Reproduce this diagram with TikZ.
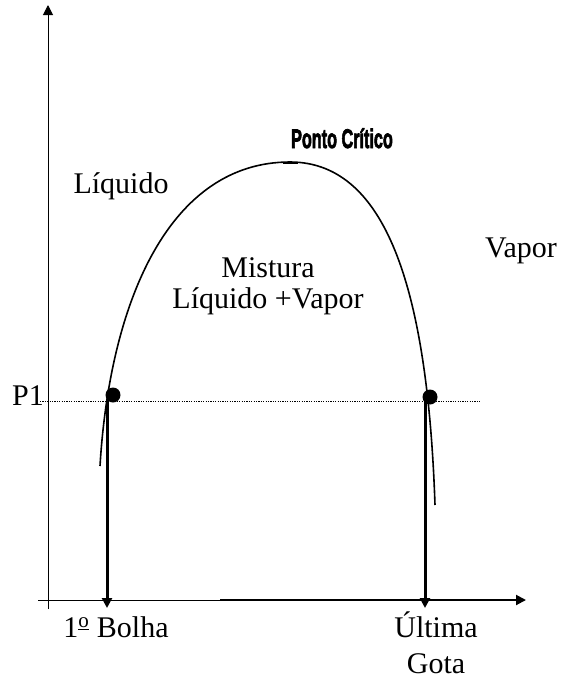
\documentclass[tikz,border=0pt]{standalone}
\usepackage{fontspec}
\setmainfont{Liberation Serif}
\newfontfamily\pcfont[FakeBold=3]{Liberation Sans}
\usetikzlibrary{arrows.meta}
\tikzset{
  lbl/.style={inner sep=0pt, anchor=base, font=\fontsize{30}{31}\selectfont},
  thinax/.style={line width=1pt},
  thickax/.style={line width=2pt},
  vline/.style={line width=3pt},
  curvel/.style={line width=1.6pt},
  tip/.style={-{Triangle[length=10pt,width=10pt]}},
  dotpt/.style={circle, fill=black, inner sep=0pt, minimum size=15pt},
}
\begin{document}
\begin{tikzpicture}[x=1pt,y=-1pt]
\useasboundingbox (0,0) rectangle (563,681);
% axes
\coordinate (yb) at (48,609);
\coordinate (yt) at (48,5);
\coordinate (xl) at (38,600);
\coordinate (xm) at (220,600);
\coordinate (xr) at (526,600);
\draw[thinax,tip] (yb) -- (yt);
\draw[thinax] (xl) -- (xm);
\draw[thickax,tip] (xm) -- (xr);
% dotted P1 line
\coordinate (dl) at (40,401);
\coordinate (dr) at (480,401);
\draw[line width=0.9pt, dash pattern=on 1.2pt off 1.2pt] (dl) -- (dr);
% curve
\coordinate (c0) at (100,466);
\coordinate (ctop) at (290,162);
\coordinate (c1) at (435,505);
\draw[curvel] (c0) .. controls (110,300) and (170,162) .. (ctop)
              .. controls (390,162) and (428,300) .. (c1);
% critical point tick
\coordinate (tkl) at (283,163);
\coordinate (tkr) at (298,163);
\draw[line width=1.6pt] (tkl) -- (tkr);
% vertical lines
\coordinate (lt) at (107,400);
\coordinate (lb) at (107,608);
\coordinate (rt) at (425,400);
\coordinate (rb) at (425,608);
\draw[vline,tip] (lt) -- (lb);
\draw[vline,tip] (rt) -- (rb);
% dots
\node[dotpt] (d1) at (113,395) {};
\node[dotpt] (d2) at (430,397) {};
% labels
\node[inner sep=0pt, anchor=base] (pc) at (342,148) {\pcfont\bfseries\fontsize{27}{27}\selectfont\scalebox{0.6}[1]{Ponto Crítico}};
\node[lbl] (liq) at (121,193) {Líquido};
\node[lbl] (vap) at (521,257) {Vapor};
\node[lbl] (mix1) at (268,277) {Mistura};
\node[lbl] (mix2) at (268,308) {Líquido +Vapor};
\node[lbl] (p1) at (28,405) {P1};
\node[lbl] (bol) at (116,637) {1\textsuperscript{\underline{o}} Bolha};
\node[lbl] (ult) at (436,637) {Última};
\node[lbl] (gota) at (436,673) {Gota};
\end{tikzpicture}
\end{document}
